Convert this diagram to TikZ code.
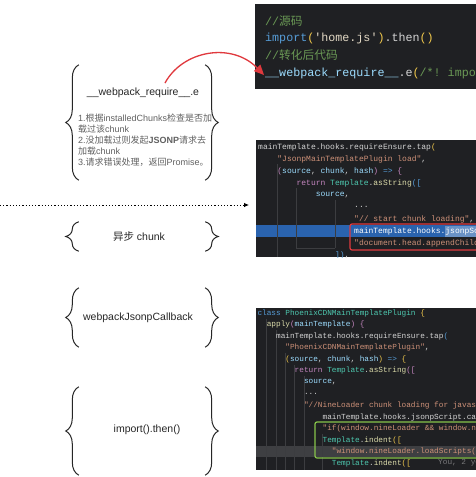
\documentclass[tikz,border=0pt]{standalone}
\usepackage{fontspec}
\setmainfont{Liberation Sans}
\setmonofont{Liberation Mono}
\newfontfamily\zh{Noto Sans CJK SC}
\usepackage{xcolor}
\usetikzlibrary{arrows.meta, decorations.pathreplacing}

\definecolor{codebg}{HTML}{1F2023}
\definecolor{codefg}{HTML}{D4D4D4}
\definecolor{vari}{HTML}{9CDCFE}
\definecolor{strg}{HTML}{CE9178}
\definecolor{strA}{HTML}{E2D8C4}
\definecolor{kw}{HTML}{569CD6}
\definecolor{ctl}{HTML}{C586C0}
\definecolor{cls}{HTML}{4EC9B0}
\definecolor{fn}{HTML}{DCDCAA}
\definecolor{brk}{HTML}{F2C94C}
\definecolor{cmt}{HTML}{6A9955}
\definecolor{selblue}{HTML}{2A63AE}
\definecolor{redbox}{HTML}{E0393E}
\definecolor{greenbox}{HTML}{86C34A}

\tikzset{
  grpbox/.style={minimum width=126pt, inner sep=0pt},
  curly/.style={decorate, decoration={brace, amplitude=13pt}, line width=1pt, draw=black!85},
  label/.style={inner sep=0pt, font=\fontsize{10.5}{12}\selectfont, text=black!85},
  steps/.style={inner sep=0pt, align=left, font=\fontsize{9}{11}\selectfont, text=black!62},
  codeA/.style={anchor=west, inner sep=0pt, font=\ttfamily\fontsize{11.7}{12}\selectfont, text=codefg},
  codeB/.style={anchor=west, inner sep=0pt, font=\ttfamily\fontsize{8}{9}\selectfont, text=codefg},
  codeC/.style={anchor=west, inner sep=0pt, font=\ttfamily\fontsize{7.75}{9}\selectfont, text=codefg},
  guide/.style={draw=white!13!codebg, line width=0.5pt},
}

\begin{document}
\begin{tikzpicture}[x=1pt, y=-1pt]
  \useasboundingbox[fill=white] (0,0) rectangle (476,477);

  % first group
  \node[grpbox, minimum height=115pt] (reqe) at (142,122.5) {};
  \draw[curly] (reqe.south west) -- (reqe.north west);
  \draw[curly] (reqe.north east) -- (reqe.south east);
  \node[label] (reqetitle) at (143,93) {\_\_webpack\_require\_\_.e};
  \node[steps, anchor=north west] (reqesteps) at (78,113.5) {%
    1.{\zh 根据}installedChunks{\zh 检查是否加}\\
    {\zh 载过该}chunk\\
    2.{\zh 没加载过则发起}\textbf{JSONP}{\zh 请求去}\\
    {\zh 加载}chunk\\
    3.{\zh 请求错误处理，返回}Promise{\zh 。}};

  % second group
  \node[grpbox, minimum height=29pt] (async) at (142,236.5) {};
  \draw[curly] (async.south west) -- (async.north west);
  \draw[curly] (async.north east) -- (async.south east);
  \node[label] (asynctxt) at (139,237) {{\zh 异步} chunk};

  % third group
  \node[grpbox, minimum height=59pt] (jsonpcb) at (142,317.5) {};
  \draw[curly] (jsonpcb.south west) -- (jsonpcb.north west);
  \draw[curly] (jsonpcb.north east) -- (jsonpcb.south east);
  \node[label] (jsonpcbtxt) at (138,318) {webpackJsonpCallback};

  % fourth group
  \node[grpbox, minimum height=88pt] (thenbox) at (142,431) {};
  \draw[curly] (thenbox.south west) -- (thenbox.north west);
  \draw[curly] (thenbox.north east) -- (thenbox.south east);
  \node[label] (thentxt) at (147,430) {import().then()};

  % code panels
  \fill[codebg] (255,4) rectangle (476,89);
  \fill[codebg] (256,140) rectangle (476,257);
  \fill[codebg] (256,308) rectangle (476,470);

  % first panel: source and output
  \begin{scope}
    \clip (255,4) rectangle (476,89);
    \node[codeA] (srccmt) at (265,21) {\color{cmt}//{\zh 源码}};
    \node[codeA] (srcimp) at (265,38) {\color{kw}import\color{brk}(\color{strA}\textquotesingle home.js\textquotesingle\color{brk})\color{codefg}.then\color{brk}()};
    \node[codeA] (outcmt) at (265,55) {\color{cmt}//{\zh 转化后代码}};
    \node[codeA] (outreq) at (265,73) {\color{vari}\_\_webpack\_require\_\_\color{codefg}.e\color{brk}(\color{cmt}/*! import(\textquotesingle home)};
  \end{scope}

  % second panel: JsonpMainTemplatePlugin
  \begin{scope}
    \clip (256,140) rectangle (476,257);
    \fill[selblue] (256,225) rectangle (476,237);
    \fill[white!30!selblue] (445,225.5) rectangle (476,236.5);
    \draw[guide] (277.2,164) -- (277.2,257);
    \draw[guide] (296.4,188) -- (296.4,248) -- (335,248);
    \draw[guide] (335,200) -- (335,248);
    \node[codeB] (jm1) at (258,147) {mainTemplate.hooks.requireEnsure.tap\color{brk}(};
    \node[codeB] (jm2) at (277.2,159) {\color{strg}"JsonpMainTemplatePlugin load"\color{codefg},};
    \node[codeB] (jm3) at (277.2,171) {\color{ctl}(\color{vari}source\color{codefg}, \color{vari}chunk\color{codefg}, \color{vari}hash\color{ctl}) \color{kw}=> \color{ctl}\{};
    \node[codeB] (jm4) at (296.4,183) {\color{ctl}return \color{cls}Template\color{codefg}.\color{fn}asString\color{kw}([};
    \node[codeB] (jm5) at (315.6,195) {\color{vari}source\color{codefg},};
    \node[codeB] (jm6) at (354,207) {...};
    \node[codeB] (jm7) at (354,219) {\color{strg}"// start chunk loading"\color{codefg},};
    \node[codeB] (jm8) at (354,231) {\color{white}mainTemplate.hooks.jsonpScript.call(};
    \node[codeB] (jm9) at (354,243) {\color{strg}"document.head.appendChild(script);"};
    \node[codeB] (jm10) at (334.8,255) {\color{kw}])\color{codefg},};
    \draw[redbox, line width=1.2pt, rounded corners=2pt] (350,224) rectangle (500,250);
  \end{scope}

  % third panel: PhoenixCDNMainTemplatePlugin
  \begin{scope}
    \clip (256,308) rectangle (476,470);
    \fill[white!14!codebg] (256,446) rectangle (476,457);
    \draw[guide] (266.6,319) -- (266.6,470);
    \draw[guide] (275.9,330) -- (275.9,470);
    \draw[guide] (285.2,353) -- (285.2,470);
    \draw[guide] (294.5,365) -- (294.5,470);
    \draw[guide] (303.8,376) -- (303.8,470);
    \draw[guide] (322.4,434) -- (322.4,470);
    \node[codeC] (px1) at (257.3,313) {\color{kw}class \color{cls}PhoenixCDNMainTemplatePlugin \color{brk}\{};
    \node[codeC] (px2) at (266.6,324.5) {\color{fn}apply\color{ctl}(\color{vari}mainTemplate\color{ctl}) \{};
    \node[codeC] (px3) at (275.9,336) {mainTemplate.hooks.requireEnsure.tap\color{kw}(};
    \node[codeC] (px4) at (285.2,347.7) {\color{strg}"PhoenixCDNMainTemplatePlugin"\color{codefg},};
    \node[codeC] (px5) at (285.2,359.2) {\color{brk}(\color{vari}source\color{codefg}, \color{vari}chunk\color{codefg}, \color{vari}hash\color{brk}) \color{kw}=> \color{brk}\{};
    \node[codeC] (px6) at (294.5,370.8) {\color{ctl}return \color{cls}Template\color{codefg}.\color{fn}asString\color{ctl}([};
    \node[codeC] (px7) at (303.8,382.3) {\color{vari}source\color{codefg},};
    \node[codeC] (px8) at (303.8,393.9) {...};
    \node[codeC] (px9) at (303.8,405.4) {\color{strg}"//NineLoader chunk loading for javascript",};
    \node[codeC] (px10) at (322.4,417) {mainTemplate.hooks.jsonpScript.call(};
    \node[codeC] (px11) at (322.4,428.5) {\color{strg}"if(window.nineLoader \&\& window.nineLoader)\{"};
    \node[codeC] (px12) at (322.4,440) {\color{cls}Template\color{codefg}.\color{fn}indent\color{brk}([};
    \node[codeC] (px13) at (331.7,451.6) {\color{strg}"window.nineLoader.loadScripts(["};
    \node[codeC] (px14) at (331.7,463.2) {\color{cls}Template\color{codefg}.\color{fn}indent\color{brk}([};
    \node[codeC, text=white!40!codebg] (px14blame) at (438,463.2) {You, 2 years ago};
    \draw[greenbox, line width=1.2pt, rounded corners=2pt] (315,422) rectangle (500,458);
  \end{scope}

  % links
  \coordinate (dotfrom) at (0,205);
  \coordinate (dotto) at (249,205);
  \draw[dash pattern=on 1.2pt off 2pt, line width=0.8pt, -{Latex[length=5pt,width=4.5pt]}] (dotfrom) -- (dotto);
  \coordinate (arrowfrom) at (165,83);
  \coordinate (arrowto) at (264,75);
  \draw[redbox, line width=1.3pt, -{Triangle[length=10pt,width=9pt]}] (arrowfrom) .. controls (183,50) and (232,42) .. (arrowto);
\end{tikzpicture}
\end{document}
